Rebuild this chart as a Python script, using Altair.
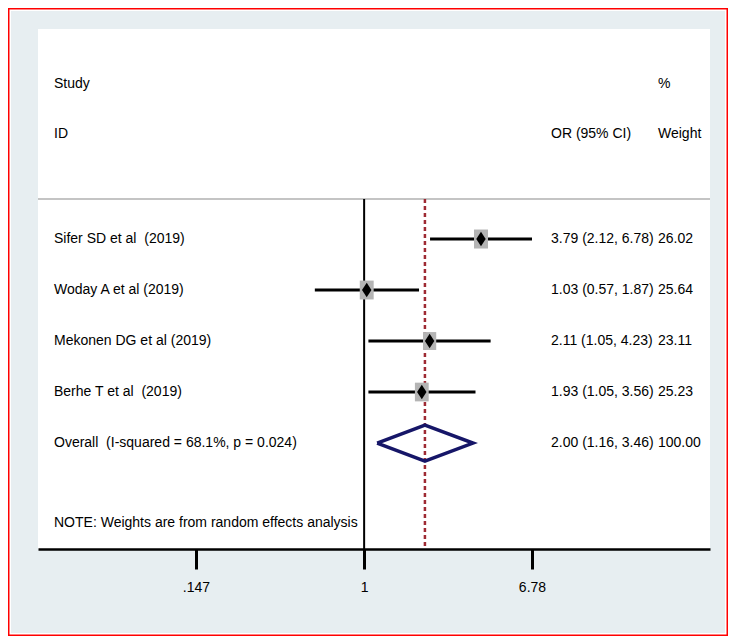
import altair as alt
import pandas as pd

# ---- data ----
studies = ["Sifer SD et al\u00a0 (2019)", "Woday A et al (2019)",
           "Mekonen DG et al (2019)", "Berhe T et al\u00a0 (2019)"]
est = [3.79, 1.03, 2.11, 1.93]
lo = [2.12, 0.57, 1.05, 1.05]
hi = [6.78, 1.87, 4.23, 3.56]
weights = [26.02, 25.64, 23.11, 25.23]

overall_est = 2.00
overall_lo = 1.16
overall_hi = 3.46
overall_weight = 100.00
overall_label = "Overall\u00a0 (I-squared = 68.1%, p = 0.024)"
note = "NOTE: Weights are from random effects analysis"

tick_values = [0.147, 1, 6.78]
tick_labels = [".147", "1", "6.78"]

# ---- layout constants ----
W, H = 672, 520
FONT = "Liberation Sans"
FS = 14
X_DOMAIN = [0.02427, 51.6]
Y_DOMAIN = [-3.118, 7.078]   # row units, row 1 = first study
SEP_ROW = 0.216
DIAM_H = 0.353
ROW_STUDY_HDR = -2.04
ROW_ID_HDR = -1.06
ROW_NOTE = 6.57
X_LEFT = 16
X_ES = 513
X_WT = 620

rows = list(range(1, len(studies) + 1))
overall_row = len(studies) + 1

df = pd.DataFrame({
    "study": studies, "est": est, "lo": lo, "hi": hi, "w": weights, "row": rows,
})
df["es_txt"] = [f"{e:.2f} ({l:.2f}, {h:.2f})" for e, l, h in zip(est, lo, hi)]
df["w_txt"] = [f"{w:.2f}" for w in weights]

txt_left = pd.DataFrame({
    "t": ["Study", "ID"] + studies + [overall_label, note],
    "row": [ROW_STUDY_HDR, ROW_ID_HDR] + rows + [overall_row, ROW_NOTE],
})
txt_es = pd.DataFrame({
    "t": ["OR (95% CI)"] + list(df["es_txt"]) +
         [f"{overall_est:.2f} ({overall_lo:.2f}, {overall_hi:.2f})"],
    "row": [ROW_ID_HDR] + rows + [overall_row],
})
txt_wt = pd.DataFrame({
    "t": ["%", "Weight"] + list(df["w_txt"]) + [f"{overall_weight:.2f}"],
    "row": [ROW_STUDY_HDR, ROW_ID_HDR] + rows + [overall_row],
})

diamond = pd.DataFrame({
    "x": [overall_lo, overall_est, overall_hi, overall_est, overall_lo],
    "row": [overall_row, overall_row - DIAM_H, overall_row, overall_row + DIAM_H, overall_row],
    "o": [0, 1, 2, 3, 4],
})

vlines = pd.DataFrame({"x": [1.0, overall_est], "row": [SEP_ROW, SEP_ROW], "kind": ["null", "overall"]})
sep_df = pd.DataFrame({"row": [SEP_ROW]})
one = pd.DataFrame({"a": [0]})

xs = alt.Scale(type="log", domain=X_DOMAIN, nice=False, zero=False)
ys = alt.Scale(domain=Y_DOMAIN, reverse=True, nice=False, zero=False)

label_expr = " : ".join(
    f"datum.value == {v} ? '{l}'" for v, l in zip(tick_values, tick_labels)
) + " : ''"

xaxis = alt.Axis(
    values=tick_values, labelExpr=label_expr, title=None, grid=False,
    domainColor="black", domainWidth=2.5, tickColor="black", tickWidth=3,
    tickSize=20, labelFont=FONT, labelFontSize=FS, labelColor="black",
    labelPadding=11, zindex=1,
)

bg = alt.Chart(one).mark_rect(color="#e7eef1").encode(
    x=alt.value(-27), x2=alt.value(687), y=alt.value(-18), y2=alt.value(604))
frame = alt.Chart(one).mark_rect(fill="transparent", stroke="#ff0000", strokeWidth=1.5).encode(
    x=alt.value(-29.25), x2=alt.value(689.25), y=alt.value(-20.25), y2=alt.value(606.25))
panel = alt.Chart(one).mark_rect(color="white").encode(
    x=alt.value(0), x2=alt.value(W), y=alt.value(0), y2=alt.value(H))

sep = alt.Chart(sep_df).mark_rule(color="#c4c4c4", strokeWidth=2).encode(
    x=alt.value(0), x2=alt.value(W), y=alt.Y("row:Q", scale=ys, axis=None))

null_line = alt.Chart(vlines).transform_filter("datum.kind == 'null'").mark_rule(
    color="black", strokeWidth=2).encode(
    x=alt.X("x:Q", scale=xs, axis=xaxis), y=alt.Y("row:Q", scale=ys, axis=None),
    y2=alt.value(H))

ov_line = alt.Chart(vlines).transform_filter("datum.kind == 'overall'").mark_rule(
    color="#9e2a33", strokeWidth=2.5, strokeDash=[4, 3]).encode(
    x=alt.X("x:Q", scale=xs), y=alt.Y("row:Q", scale=ys), y2=alt.value(H))

ci = alt.Chart(df).mark_rule(color="black", strokeWidth=3).encode(
    x=alt.X("lo:Q", scale=xs), x2="hi:Q",
    y=alt.Y("row:Q", scale=ys))

box_path = "M-0.737,-1L0.737,-1L0.737,1L-0.737,1Z"
boxes = alt.Chart(df).mark_point(shape=box_path, filled=True, color="#b4b4b4", opacity=1, strokeWidth=0).encode(
    x=alt.X("est:Q", scale=xs), y=alt.Y("row:Q", scale=ys),
    size=alt.Size("w:Q", scale=alt.Scale(domain=[0, 30], range=[0, 416]), legend=None))

dia_path = "M0,-1L0.65,0L0,1L-0.65,0Z"
pts = alt.Chart(df).mark_point(shape=dia_path, filled=True, color="black", opacity=1, size=210, strokeWidth=0).encode(
    x=alt.X("est:Q", scale=xs), y=alt.Y("row:Q", scale=ys))

ov_dia = alt.Chart(diamond).mark_line(color="#161668", strokeWidth=3.5, strokeJoin="miter").encode(
    x=alt.X("x:Q", scale=xs), y=alt.Y("row:Q", scale=ys), order="o:Q")

def text_layer(d, xpix):
    return alt.Chart(d).mark_text(align="left", baseline="middle", font=FONT,
                                  fontSize=FS, color="black").encode(
        x=alt.value(xpix), y=alt.Y("row:Q", scale=ys), text="t:N")

chart = alt.layer(
    bg, frame, panel, sep, null_line, ov_line, ci, boxes, pts, ov_dia,
    text_layer(txt_left, X_LEFT), text_layer(txt_es, X_ES), text_layer(txt_wt, X_WT),
).properties(
    width=W, height=H,
    autosize=alt.AutoSizeParams(type="none"),
    padding={"left": 30, "top": 21, "right": 18, "bottom": 87},
    background="white",
).configure_view(strokeOpacity=0)

chart.save("out.html", embed_options={"renderer": "svg", "actions": False})
